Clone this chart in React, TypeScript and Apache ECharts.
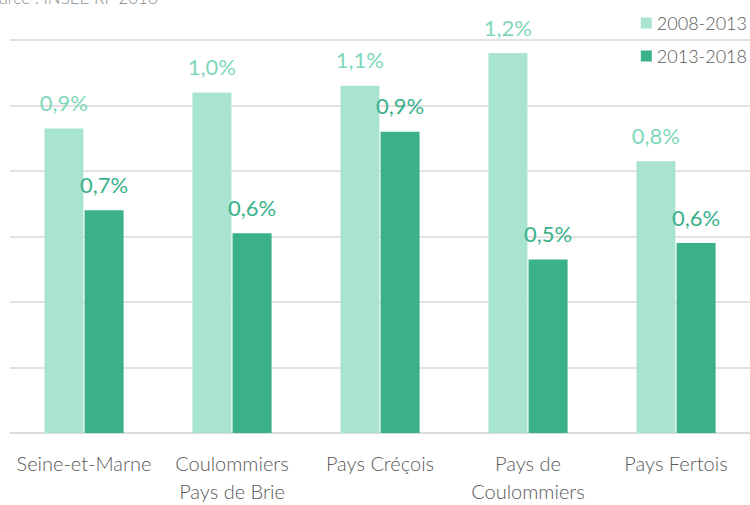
import React, { useEffect, useRef } from "react";
import * as echarts from "echarts";

const categories = ["Seine-et-Marne", "Coulommiers\nPays de Brie", "Pays Créçois", "Pays de\nCoulommiers", "Pays Fertois"];
const series2008 = [0.93, 1.04, 1.06, 1.16, 0.83];
const series2013 = [0.68, 0.61, 0.92, 0.53, 0.58];
const seriesNames = ["2008-2013", "2013-2018"];
const sourceText = "Source : INSEE RP 2018";

const LIGHT = "#a9e4d3";
const DARK = "#3ab18a";
const FONT = "Lato, 'Open Sans', sans-serif";

export default function App() {
  const ref = useRef<HTMLDivElement>(null);
  useEffect(() => {
    const chart = echarts.init(ref.current!, null, { renderer: "svg" });
    const fmt = (p: any) => p.value.toFixed(1).replace(".", ",") + "%";
    chart.setOption({
      animation: false,
      backgroundColor: "#ffffff",
      textStyle: { fontFamily: FONT },
      graphic: [
        {
          type: "text",
          left: -20,
          top: -11,
          style: { text: sourceText, fontSize: 17, fontWeight: 300, fill: "#8c8c8c", fontFamily: FONT },
        },
      ],
      legend: {
        orient: "vertical",
        right: -2,
        top: 9,
        itemWidth: 11,
        itemHeight: 11,
        itemGap: 15,
        icon: "rect",
        textStyle: { fontSize: 18, fontWeight: 300, color: "#595959", fontFamily: FONT },
        data: seriesNames,
      },
      grid: { left: 10, right: -5, top: 40, bottom: 72, containLabel: false },
      xAxis: {
        type: "category",
        data: categories,
        axisTick: { show: false },
        axisLine: { lineStyle: { color: "#d9d9d9", width: 1.5 } },
        axisLabel: {
          fontSize: 20,
          fontWeight: 300,
          color: "#595959",
          margin: 16,
          lineHeight: 28,
          fontFamily: FONT,
          interval: 0,
        },
      },
      yAxis: {
        type: "value",
        min: 0,
        max: 1.2,
        interval: 0.2,
        axisLabel: { show: false },
        axisLine: { show: false },
        axisTick: { show: false },
        splitLine: { lineStyle: { color: "#d9d9d9", width: 1.5 } },
      },
      series: [
        {
          name: seriesNames[0],
          type: "bar",
          data: series2008,
          barWidth: 39,
          barGap: "3%",
          itemStyle: { color: LIGHT },
          label: {
            show: true,
            position: "top",
            distance: 15,
            formatter: fmt,
            fontSize: 22,
            fontWeight: "normal",
            color: "#7fd8bb",
            fontFamily: FONT,
          },
        },
        {
          name: seriesNames[1],
          type: "bar",
          data: series2013,
          barWidth: 39,
          itemStyle: { color: DARK },
          label: {
            show: true,
            position: "top",
            distance: 15,
            formatter: fmt,
            fontSize: 22,
            fontWeight: "normal",
            color: DARK,
            fontFamily: FONT,
          },
        },
      ],
    });
    return () => chart.dispose();
  }, []);
  return <div ref={ref} style={{ width: 750, height: 505, position: "absolute", left: 0, top: 0 }} />;
}
